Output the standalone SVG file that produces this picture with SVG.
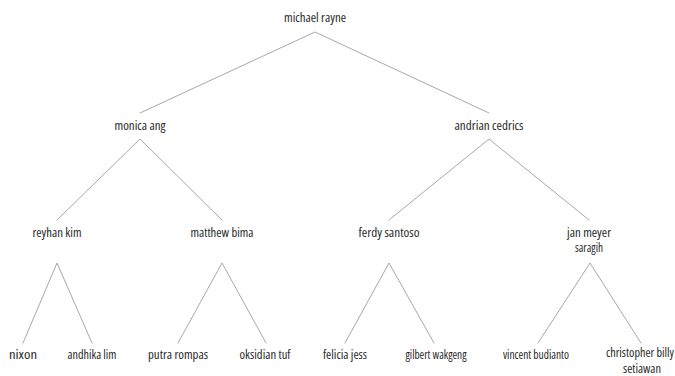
<svg xmlns="http://www.w3.org/2000/svg" width="675" height="376" viewBox="0 0 675 376">
  <style>
    .lbl { font-family: "Open Sans", "Noto Sans", "Liberation Sans", sans-serif; font-size: 12.5px; font-stretch: 80%; fill: #2a2a2a; text-anchor: middle; }
    .edge { stroke: #a8a8a8; stroke-width: 1; fill: none; stroke-linecap: round; }
  </style>
  <rect width="675" height="376" fill="#ffffff"/>

  <!-- connectors: each parent fans out to its two children -->
  <g id="connectors">
    <path class="edge" d="M140 113 L315 32 L489 113"/>
    <path class="edge" d="M57 220 L140 139 L222 220"/>
    <path class="edge" d="M389 220 L489 139 L589 220"/>
    <path class="edge" d="M23 343 L57 263 L92 343"/>
    <path class="edge" d="M178 343 L222 263 L266 343"/>
    <path class="edge" d="M345 343 L389 263 L434 343"/>
    <path class="edge" d="M538 343 L590 263 L641 343"/>
  </g>

  <!-- level 0 -->
  <g id="michael-rayne"><text class="lbl" x="315" y="22" textLength="62" lengthAdjust="spacingAndGlyphs">michael rayne</text></g>

  <!-- level 1 -->
  <g id="monica-ang"><text class="lbl" x="140" y="130" textLength="51" lengthAdjust="spacingAndGlyphs">monica ang</text></g>
  <g id="andrian-cedrics"><text class="lbl" x="489" y="130" textLength="69" lengthAdjust="spacingAndGlyphs">andrian cedrics</text></g>

  <!-- level 2 -->
  <g id="reyhan-kim"><text class="lbl" x="57" y="237" textLength="49" lengthAdjust="spacingAndGlyphs">reyhan kim</text></g>
  <g id="matthew-bima"><text class="lbl" x="222" y="237" textLength="63" lengthAdjust="spacingAndGlyphs">matthew bima</text></g>
  <g id="ferdy-santoso"><text class="lbl" x="389" y="237" textLength="61" lengthAdjust="spacingAndGlyphs">ferdy santoso</text></g>
  <g id="jan-meyer-saragih">
    <text class="lbl" x="589" y="236.5" textLength="44" lengthAdjust="spacingAndGlyphs">jan meyer</text>
    <text class="lbl" x="589" y="252" textLength="28" lengthAdjust="spacingAndGlyphs">saragih</text>
  </g>

  <!-- level 3 -->
  <g id="nixon"><text class="lbl" x="23" y="359" textLength="28" lengthAdjust="spacingAndGlyphs">nixon</text></g>
  <g id="andhika-lim"><text class="lbl" x="92" y="359" textLength="49" lengthAdjust="spacingAndGlyphs">andhika lim</text></g>
  <g id="putra-rompas"><text class="lbl" x="178" y="359" textLength="60" lengthAdjust="spacingAndGlyphs">putra rompas</text></g>
  <g id="oksidian-tuf"><text class="lbl" x="265" y="359" textLength="51" lengthAdjust="spacingAndGlyphs">oksidian tuf</text></g>
  <g id="felicia-jess"><text class="lbl" x="345" y="359" textLength="44" lengthAdjust="spacingAndGlyphs">felicia jess</text></g>
  <g id="gilbert-wakgeng"><text class="lbl" x="436" y="359" textLength="61" lengthAdjust="spacingAndGlyphs">gilbert wakgeng</text></g>
  <g id="vincent-budianto"><text class="lbl" x="536" y="359" textLength="66" lengthAdjust="spacingAndGlyphs">vincent budianto</text></g>
  <g id="christopher-billy-setiawan">
    <text class="lbl" x="640" y="357" textLength="68" lengthAdjust="spacingAndGlyphs">christopher billy</text>
    <text class="lbl" x="642" y="372.5" textLength="38" lengthAdjust="spacingAndGlyphs">setiawan</text>
  </g>
</svg>
